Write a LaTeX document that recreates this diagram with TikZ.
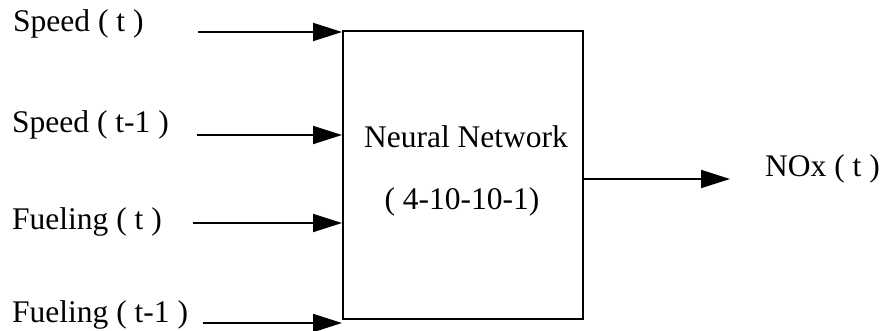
\documentclass[tikz,border=0pt]{standalone}
\usepackage{fontspec}
\setmainfont{Liberation Serif}
\usetikzlibrary{arrows.meta}
\begin{document}
\begin{tikzpicture}[x=1pt,y=-1pt,
  lbl/.style={font=\fontsize{31.5}{38}\selectfont, inner sep=0pt},
  arr/.style={line width=1.9pt, -{Triangle[length=29pt,width=18pt]}},
  boxstyle/.style={draw, line width=2pt, minimum width=240pt, minimum height=288pt, inner sep=0pt}]
\useasboundingbox (0,0) rectangle (884,331);
\node[boxstyle] (nn) at (463,175) {};
\node[lbl, anchor=base] (t1) at (466,148) {Neural Network};
\node[lbl, anchor=base] (t2) at (462,210) {( 4-10-10-1)};
% input labels
\node[lbl, anchor=base west] (l1) at (13,32) {Speed ( t )};
\node[lbl, anchor=base west] (l2) at (12,133) {Speed ( t-1 )};
\node[lbl, anchor=base west] (l3) at (12,230) {Fueling ( t )};
\node[lbl, anchor=base west] (l4) at (12,322) {Fueling ( t-1 )};
% input arrow starts
\coordinate (s1) at (198,32);
\coordinate (s2) at (197,135);
\coordinate (s3) at (193,223);
\coordinate (s4) at (203,323);
\draw[arr] (s1) -- (s1 -| nn.west);
\draw[arr] (s2) -- (s2 -| nn.west);
\draw[arr] (s3) -- (s3 -| nn.west);
\draw[arr] (s4) -- (s4 -| nn.west);
% output
\coordinate (o) at (730,179);
\draw[arr] (nn.east |- o) -- (o);
\node[lbl, anchor=base west] (out) at (765,177) {NOx ( t )};
\end{tikzpicture}
\end{document}
